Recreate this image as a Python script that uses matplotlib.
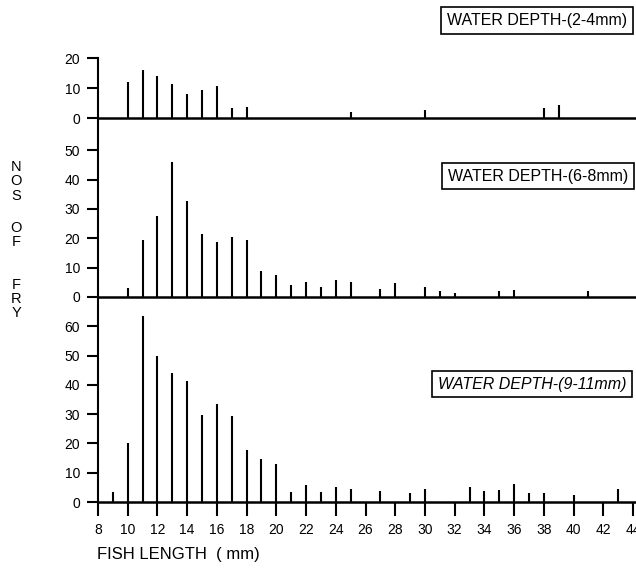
import matplotlib
matplotlib.use("Agg")
import matplotlib.pyplot as plt

plt.rcParams['font.family'] = ['Liberation Sans', 'DejaVu Sans']

# counts of fry per fish length (mm)
top_len = [10, 11, 12, 13, 14, 15, 16, 17, 18, 25, 30, 38, 39]
top_cnt = [12, 16, 14, 11.5, 8, 9.3, 10.8, 3.4, 3.6, 2, 2.7, 3.5, 4.2]

mid_len = [10, 11, 12, 13, 14, 15, 16, 17, 18, 19, 20, 21, 22, 23, 24, 25,
           27, 28, 30, 31, 32, 35, 36, 41]
mid_cnt = [3, 19.5, 27.6, 46, 32.7, 21.5, 18.6, 20.6, 19.4, 8.8, 7.5, 4, 5,
           3.5, 5.8, 5, 2.7, 4.8, 3.3, 2, 1.5, 2, 2.3, 2.2]

bot_len = [9, 10, 11, 12, 13, 14, 15, 16, 17, 18, 19, 20, 21, 22, 23, 24, 25,
           27, 29, 30, 33, 34, 35, 36, 37, 38, 40, 43]
bot_cnt = [3.5, 20, 63.5, 50, 44, 41.4, 29.8, 33.3, 29.2, 17.9, 14.8, 12.9,
           3.5, 5.8, 3.5, 5, 4.5, 3.8, 3.2, 4.3, 5, 3.8, 4, 6, 3.2, 3.2, 2.5, 4.3]

labels = ["WATER DEPTH-(2-4mm)", "WATER DEPTH-(6-8mm)", "WATER DEPTH-(9-11mm)"]
x_ticks = list(range(8, 45, 2))

W, H = 636, 572
fig = plt.figure(figsize=(W / 100, H / 100), dpi=100)


def px_axes(x0, x1, y0, y1):
    # pixel box (top-left origin) -> figure axes
    return fig.add_axes([x0 / W, 1 - y1 / H, (x1 - x0) / W, (y1 - y0) / H])


ax_top = px_axes(98, 636, 58, 118)
ax_mid = px_axes(98, 636, 118, 297)
ax_bot = px_axes(98, 636, 297, 502)

panels = [
    (ax_top, top_len, top_cnt, 20, [0, 10, 20]),
    (ax_mid, mid_len, mid_cnt, 61, [0, 10, 20, 30, 40, 50]),
    (ax_bot, bot_len, bot_cnt, 70, [0, 10, 20, 30, 40, 50, 60]),
]

for ax, xs, ys, ytop, yt in panels:
    ax.vlines(xs, 0, ys, color="black", lw=1.5)
    ax.set_xlim(8, 44.2)
    ax.set_ylim(0, ytop)
    ax.set_yticks(yt)
    ax.patch.set_alpha(0)
    for s in ["top", "right"]:
        ax.spines[s].set_visible(False)
    ax.spines["bottom"].set_linewidth(1.8)
    ax.spines["left"].set_linewidth(1.5)
    ax.tick_params(axis="y", direction="out", length=8, width=1.5,
                   labelsize=10, pad=5)
    ax.tick_params(axis="x", bottom=False, labelbottom=False)

ax_bot.set_xticks(x_ticks)
ax_bot.tick_params(axis="x", bottom=True, labelbottom=True, direction="out",
                   length=10, width=1.5, labelsize=10, pad=5)

# panel labels in boxes
box = dict(boxstyle="square,pad=0.35", fc="white", ec="black", lw=1.2)
fig.text(537 / W, 1 - 20.5 / H, labels[0], ha="center", va="center",
         fontsize=11.5, bbox=box)
fig.text(538 / W, 1 - 176 / H, labels[1], ha="center", va="center",
         fontsize=11.5, bbox=box)
fig.text(532 / W, 1 - 384 / H, labels[2], ha="center", va="center",
         fontsize=11.5, style="italic", bbox=box)

# stacked y label
ylab = [("N", 167), ("O", 181), ("S", 196), ("O", 228), ("F", 242),
        ("F", 285), ("R", 299), ("Y", 313)]
for ch, yy in ylab:
    fig.text(16 / W, 1 - yy / H, ch, ha="center", va="center", fontsize=10.5)

fig.text(97 / W, 1 - 555 / H, "FISH LENGTH  ( mm)", ha="left", va="center",
         fontsize=12)

fig.savefig("out.png", dpi=100)
